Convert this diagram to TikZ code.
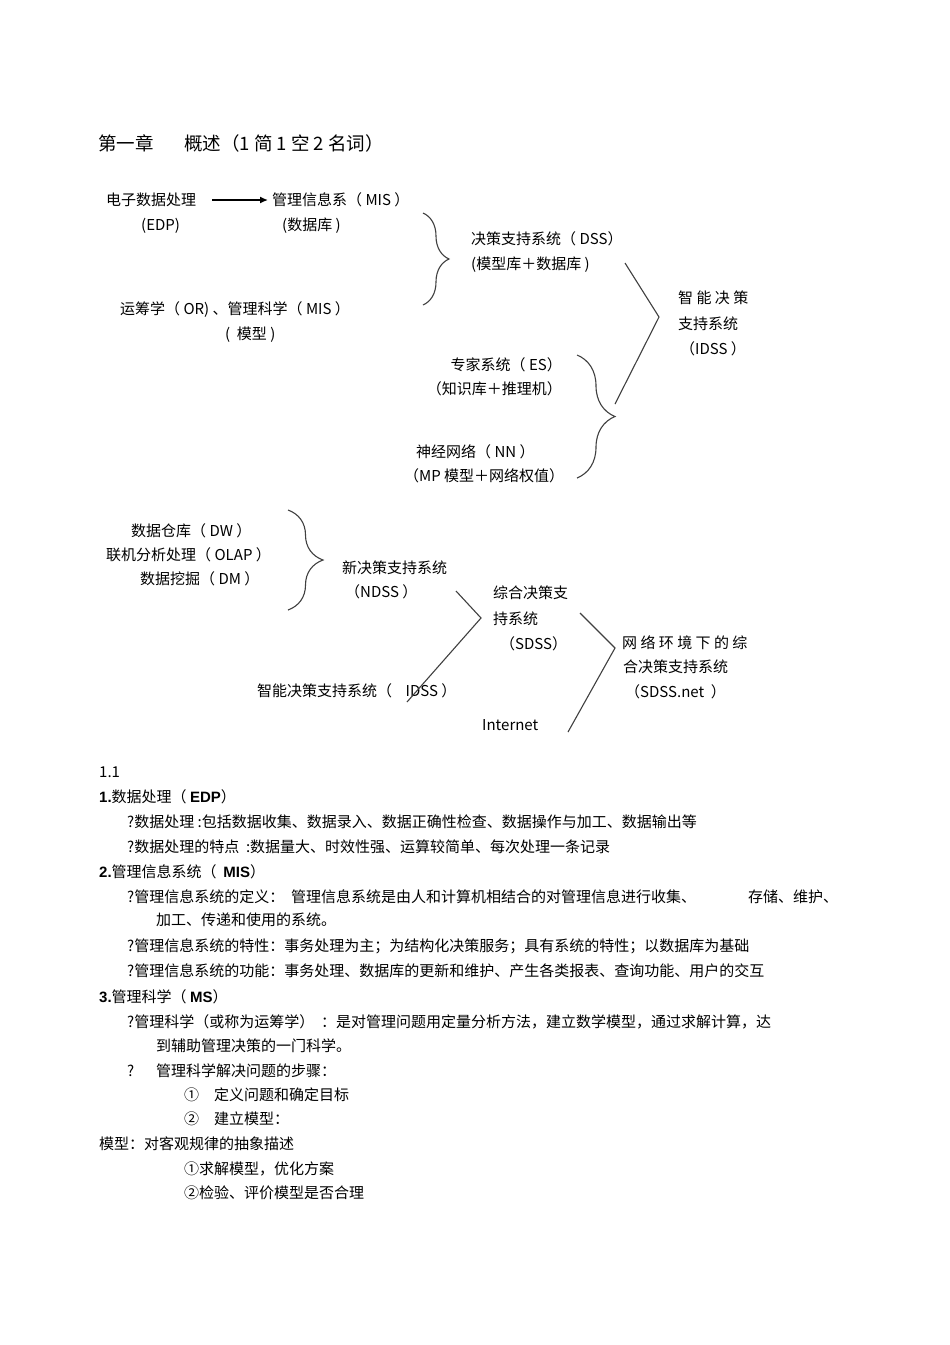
\documentclass[tikz,border=0pt]{standalone}
\usepackage{fontspec}
\setmainfont{Noto Sans CJK SC}
\newfontfamily\latn{Liberation Sans}
\usetikzlibrary{arrows.meta, decorations.pathreplacing}

\begin{document}
\begin{tikzpicture}[x=1pt, y=-1pt,
  txt/.style={anchor=west, inner sep=0pt, font=\fontsize{15}{18}\selectfont},
  txtr/.style={txt, anchor=east},
  ttl/.style={anchor=west, inner sep=0pt, font=\fontsize{18.5}{21}\selectfont},
  ln/.style={line width=1.1pt, black!75},
  brc/.style={ln, decorate, decoration={brace, amplitude=#1}}]
  \useasboundingbox[fill=white] (0,0) rectangle (950,1345);

  % Title
  \node[ttl] (chap) at (98,143) {第一章};
  \node[ttl] (chapname) at (184,143) {概述（1\ 简\ 1\ 空\ 2\ 名词）};

  % EDP -> MIS
  \node[txt] (edp) at (106,200) {电子数据处理};
  \node[txt] (edpab) at (141,226) {(EDP)};
  \node[txt] (mis) at (272,200) {管理信息系（ MIS ）};
  \node[txt] (misdb) at (282,226) {(数据库 )};
  \draw[ln, black, line width=1.4pt, -{Latex[length=8pt, width=7pt]}, shorten <=16pt, shorten >=4pt] (edp) -- (mis);

  \node[txt] (or) at (120,310) {运筹学（ OR) 、管理科学（ MIS ）};
  \node[txt] (orm) at (225,335) {(\ \ 模型 )};

  % brace -> DSS
  \coordinate (b1t) at (423,213);
  \coordinate (b1b) at (423,305);
  \draw[brc=26pt] (b1t) -- (b1b);
  \node[txt] (dss) at (471,239) {决策支持系统（ DSS）};
  \node[txt] (dssb) at (471,265) {(模型库＋数据库 )};

  % ES + NN
  \node[txtr] (es) at (562,365) {专家系统（ ES）};
  \node[txtr] (esb) at (562,389) {（知识库＋推理机）};
  \node[txt] (nn) at (416,452) {神经网络（ NN ）};
  \node[txt] (nnb) at (404,476) {（MP 模型＋网络权值）};
  \coordinate (b2t) at (577,355);
  \coordinate (b2b) at (577,478);
  \draw[brc=38pt] (b2t) -- (b2b);

  % IDSS
  \node[txt] (idss1) at (678,298) {智 能 决 策};
  \node[txt] (idss2) at (678,324) {支持系统};
  \node[txt] (idss3) at (680,349) {（IDSS ）};
  \coordinate (a1t) at (625,263);
  \coordinate (a1v) at (659,317);
  \coordinate (a1b) at (615,404);
  \draw[ln] (a1t) -- (a1v) -- (a1b);

  % DW, OLAP, DM -> NDSS
  \node[txt] (dw) at (131,531) {数据仓库（ DW ）};
  \node[txt] (olap) at (106,555) {联机分析处理（ OLAP ）};
  \node[txt] (dm) at (140,579) {数据挖掘（ DM ）};
  \coordinate (b3t) at (288,510);
  \coordinate (b3b) at (288,610);
  \draw[brc=35pt] (b3t) -- (b3b);
  \node[txt] (ndss) at (342,568) {新决策支持系统};
  \node[txt] (ndssb) at (345,592) {（NDSS ）};

  % SDSS
  \node[txt] (idssl) at (257,691) {智能决策支持系统（\ \ \ \ IDSS ）};
  \node[txt] (sdss1) at (493,593) {综合决策支};
  \node[txt] (sdss2) at (493,619) {持系统};
  \node[txt] (sdss3) at (500,644) {（SDSS）};
  \coordinate (a2t) at (456,591);
  \coordinate (a2v) at (481,618);
  \coordinate (a2b) at (407,702);
  \draw[ln] (a2t) -- (a2v) -- (a2b);

  % SDSS.net
  \node[txt] (inet) at (482,725) {Internet};
  \node[txt] (net1) at (622,643) {网 络 环 境 下 的 综};
  \node[txt] (net2) at (623,667) {合决策支持系统};
  \node[txt] (net3) at (625,692) {（SDSS.net \ ）};
  \coordinate (a3t) at (580,613);
  \coordinate (a3v) at (615,648);
  \coordinate (a3b) at (568,732);
  \draw[ln] (a3t) -- (a3v) -- (a3b);

  % Notes
  \node[txt] (sec) at (99,772) {1.1};
  \node[txt] (h1) at (99,797) {{\latn\bfseries 1.}数据处理（ {\latn\bfseries EDP}）};
  \node[txt] (h1a) at (127,822) {?数据处理 :包括数据收集、数据录入、数据正确性检查、数据操作与加工、数据输出等};
  \node[txt] (h1b) at (127,847) {?数据处理的特点 \ :数据量大、时效性强、运算较简单、每次处理一条记录};
  \node[txt] (h2) at (99,872) {{\latn\bfseries 2.}管理信息系统（ \ {\latn\bfseries MIS}）};
  \node[txt] (h2a) at (127,897) {?管理信息系统的定义：\ \ 管理信息系统是由人和计算机相结合的对管理信息进行收集、};
  \node[txt] (h2a2) at (748,897) {存储、维护、};
  \node[txt] (h2a3) at (156,920) {加工、传递和使用的系统。};
  \node[txt] (h2b) at (127,946) {?管理信息系统的特性：事务处理为主；为结构化决策服务；具有系统的特性；以数据库为基础};
  \node[txt] (h2c) at (127,971) {?管理信息系统的功能：事务处理、数据库的更新和维护、产生各类报表、查询功能、用户的交互};
  \node[txt] (h3) at (99,997) {{\latn\bfseries 3.}管理科学（ {\latn\bfseries MS}）};
  \node[txt] (h3a) at (127,1022) {?管理科学（或称为运筹学）\ \ ：是对管理问题用定量分析方法，建立数学模型，通过求解计算，达};
  \node[txt] (h3a2) at (156,1046) {到辅助管理决策的一门科学。};
  \node[txt] (h3q) at (127,1071) {?};
  \node[txt] (h3b) at (156,1071) {管理科学解决问题的步骤：};
  \node[txt] (s1) at (184,1095) {①};
  \node[txt] (s1t) at (214,1095) {定义问题和确定目标};
  \node[txt] (s2) at (184,1119) {②};
  \node[txt] (s2t) at (214,1119) {建立模型：};
  \node[txt] (model) at (99,1144) {模型：对客观规律的抽象描述};
  \node[txt] (s3) at (184,1169) {①求解模型，优化方案};
  \node[txt] (s4) at (184,1193) {②检验、评价模型是否合理};
\end{tikzpicture}
\end{document}
